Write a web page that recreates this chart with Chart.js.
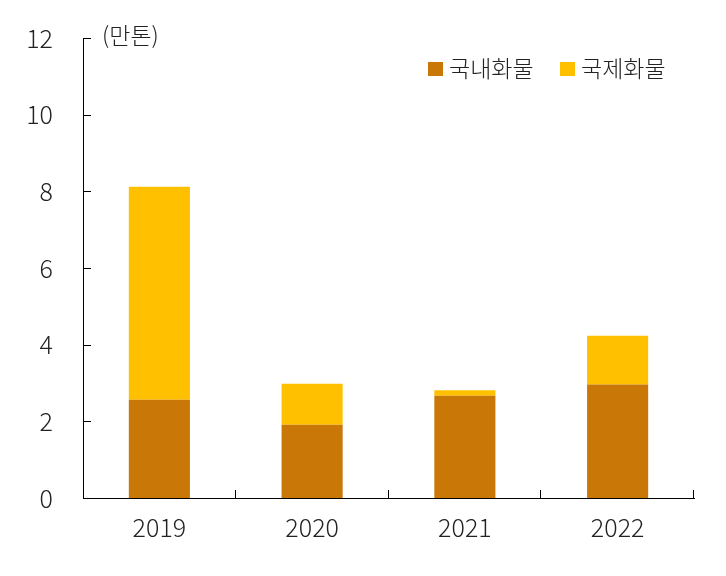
<!DOCTYPE html>
<html>
<head>
<meta charset="utf-8">
<script src="https://cdn.jsdelivr.net/npm/chart.js@4"></script>
<style>
  html, body { margin: 0; padding: 0; background: #fff; }
  #wrap { width: 726px; height: 576px; }
</style>
</head>
<body>
<div id="wrap"><canvas id="c"></canvas></div>
<script>
const years = ['2019', '2020', '2021', '2022'];
const domestic = [2.56, 1.91, 2.67, 2.96];
const international = [5.56, 1.07, 0.14, 1.27];
const seriesNames = ['국내화물', '국제화물'];
const yTicks = [0, 2, 4, 6, 8, 10, 12];
const unitLabel = '(만톤)';

const FONT = "'Noto Sans CJK KR', 'Noto Sans', sans-serif";
const TEXT = '#222';

// inward tick marks + unit label + legend
const decor = {
  id: 'decor',
  afterDraw(chart) {
    const ctx = chart.ctx;
    const x = chart.scales.x, y = chart.scales.y;
    ctx.save();
    ctx.strokeStyle = '#000';
    ctx.lineWidth = 1;
    y.ticks.forEach(t => {
      const py = Math.round(y.getPixelForValue(t.value)) + 0.5;
      ctx.beginPath();
      ctx.moveTo(x.left, py);
      ctx.lineTo(x.left + 8, py);
      ctx.stroke();
    });
    for (let i = 1; i <= years.length; i++) {
      const px = Math.round(x.left + (x.right - x.left) * i / years.length) - 0.5;
      ctx.beginPath();
      ctx.moveTo(px, y.bottom);
      ctx.lineTo(px, y.bottom - 8);
      ctx.stroke();
    }

    ctx.fillStyle = TEXT;
    ctx.font = '300 23px ' + FONT;
    ctx.textBaseline = 'middle';
    ctx.textAlign = 'left';
    ctx.fillText(unitLabel, 102, 35);

    const lx = [428, 560];
    chart.data.datasets.forEach((ds, i) => {
      ctx.fillStyle = ds.backgroundColor;
      ctx.fillRect(lx[i], 62, 15, 14);
      ctx.fillStyle = TEXT;
      ctx.fillText(ds.label, lx[i] + 21, 68);
    });
    ctx.restore();
  }
};

new Chart(document.getElementById('c'), {
  type: 'bar',
  data: {
    labels: years,
    datasets: [
      { label: seriesNames[0], data: domestic, backgroundColor: '#C97808' },
      { label: seriesNames[1], data: international, backgroundColor: '#FFC000' }
    ]
  },
  options: {
    responsive: true,
    maintainAspectRatio: false,
    animation: false,
    devicePixelRatio: 1,
    layout: { padding: { left: 0, right: 32, top: 38, bottom: 0 } },
    plugins: { legend: { display: false }, tooltip: { enabled: false } },
    datasets: { bar: { categoryPercentage: 0.4, barPercentage: 1 } },
    scales: {
      x: {
        stacked: true,
        grid: { display: false, drawTicks: false },
        border: { color: '#000', width: 1 },
        ticks: { color: TEXT, font: { family: FONT, size: 25, weight: '300' }, padding: 14 },
        afterFit: s => { s.height = 78; s.paddingLeft = 0; s.paddingRight = 0; }
      },
      y: {
        stacked: true,
        min: 0, max: 12,
        afterBuildTicks: s => { s.ticks = yTicks.map(v => ({ value: v })); },
        grid: { display: false, drawTicks: false },
        border: { color: '#000', width: 1 },
        ticks: { color: TEXT, font: { family: FONT, size: 25, weight: '300' }, padding: 30 },
        afterFit: s => { s.width = 83; s.paddingTop = 0; s.paddingBottom = 0; }
      }
    }
  },
  plugins: [decor]
});
</script>
</body>
</html>
